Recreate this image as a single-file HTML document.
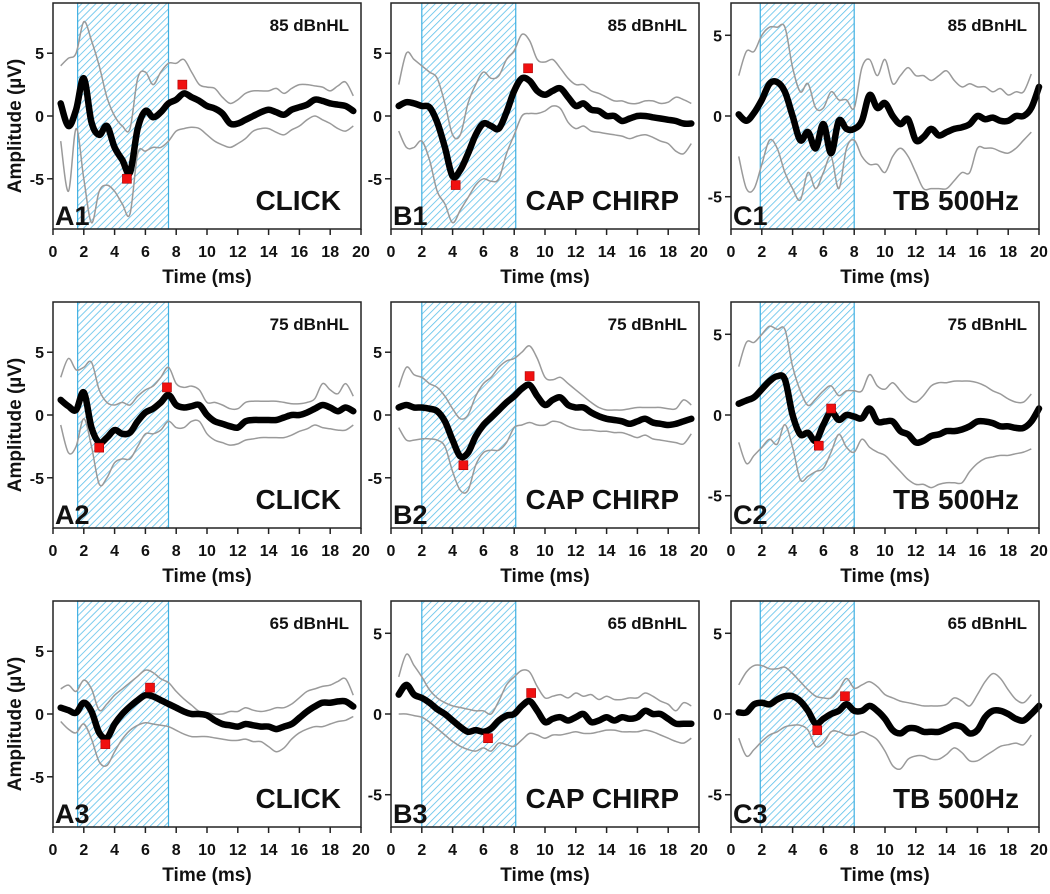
<!DOCTYPE html>
<html><head><meta charset="utf-8"><style>
html,body{margin:0;padding:0;background:#fff}
svg text{font-family:"Liberation Sans",Arial,sans-serif;font-weight:bold;fill:#111}
</style></head><body>
<svg id="fig" width="1050" height="889" viewBox="0 0 1050 889" xmlns="http://www.w3.org/2000/svg">
<defs>
<pattern id="hatch" patternUnits="userSpaceOnUse" width="5" height="5" patternTransform="rotate(45)">
<rect width="5" height="5" fill="#fff"/>
<line x1="0" y1="0" x2="0" y2="5" stroke="#5cc0ea" stroke-width="1.6"/>
</pattern>
</defs>
</svg>
<script>
const TIMES=[0.5,1,1.5,2,2.5,3,3.5,4,4.5,5,5.5,6,6.5,7,7.5,8,8.5,9,9.5,10,10.5,11,11.5,12,12.5,13,13.5,14,14.5,15,15.5,16,16.5,17,17.5,18,18.5,19,19.5,20];
const xTicks=[0,2,4,6,8,10,12,14,16,18,20];
const yTicks=[-5,0,5];

const A1_mean=[1,-0.8,0.5,3,-0.5,-1.5,-0.8,-2.5,-3.5,-4.5,-1,0.4,-0.1,0.3,1,1.3,1.8,1.5,1.2,0.8,0.6,0.2,-0.6,-0.6,-0.3,0,0.3,0.5,0.3,0.1,0.5,0.7,0.9,1.3,1.2,1.0,0.9,0.8,0.4];
const A1_up=[4,4.6,5,7.5,6,4,1.5,0,-0.8,-1,3,3.5,2.5,3.5,4.2,4.2,4.5,3.5,2.5,2.3,2.2,1.5,1,1.3,1.8,2,2,2,2.2,1.8,2.2,2.5,2.5,2.4,2.3,2,2.4,2.7,1.6];
const A1_lo=[-2,-6,-1,-5,-8.5,-6,-5.5,-6,-7,-7.8,-3,-2.8,-2.5,-2.5,-2,-1.2,-1,-0.9,-1,-1.5,-2,-2.3,-2.5,-2.2,-1.8,-1.2,-1,-1,-1.3,-1.5,-1.1,-0.8,-0.3,0,-0.3,-0.6,-1,-1.2,-0.8];
const A1_markers=[[4.8,-5],[8.4,2.5]];

const B1_mean=[0.8,1.1,1,0.8,0.7,-0.5,-2.5,-4.8,-4.3,-3,-1.5,-0.6,-0.8,-1,0.3,2,3,2.8,2,1.7,2,2.2,1.5,0.8,1,0.5,0.4,0,0,-0.4,-0.2,0,0,-0.1,-0.2,-0.3,-0.4,-0.6,-0.6];
const B1_up=[2.5,5,4.5,4,3.5,3,1,-1.5,-1.5,1,2.5,3.5,3,3.2,4.5,5.2,6.5,6,4.5,4.3,4.5,3.8,3,2.5,2.5,2,1.8,1.5,1.2,1.2,1,1,1.2,1.2,1,1.1,1.5,1.3,1];
const B1_lo=[-1.2,-2.5,-2.5,-2,-3.5,-6,-7,-8.5,-7.5,-6.5,-5.5,-5,-5.2,-5,-3,-1.5,0,0.2,0.2,0.4,0.8,0.6,-0.5,-1,-0.8,-1.2,-1.3,-1.4,-1.5,-1.6,-1.8,-1.6,-1.5,-1.7,-2,-2.2,-2.8,-3,-2.2];
const B1_markers=[[4.2,-5.5],[8.9,3.8]];

const C1_mean=[0.1,-0.3,0.2,1,2,2.1,1.5,0,-1.5,-1,-2,-0.5,-2.3,-0.3,-0.8,-0.8,-0.3,1.3,0.5,0.8,0,-0.5,-0.2,-1.5,-1.3,-0.8,-1.2,-1,-0.8,-0.7,-0.5,0,-0.2,-0.1,-0.3,-0.3,0,0,0.5,1.8];
const C1_up=[2.5,4,4,5,5.5,5.5,5.5,3,1.5,2,0.5,0.5,1.5,1,1,0.5,3,3.5,2.5,3.5,2,2.5,3,2.5,2.5,2.2,2.5,2.8,2.2,1.8,2,1.8,1.8,1.5,1.7,1.3,1.5,1.5,2.6];
const C1_lo=[-2.5,-4.5,-4.5,-3,-1.5,-2,-3.5,-4.5,-5.2,-3.5,-4.5,-3.5,-2.5,-4.5,-2,-1.5,-2.5,-3,-3,-3.5,-2.5,-2,-2.5,-3.5,-4.5,-4.5,-4.5,-4.5,-4,-3.5,-3.5,-2,-2,-2,-2.2,-2.3,-2,-1.5,-1];
const C1_markers=[];

const A2_mean=[1.2,0.7,0.4,1.8,-1,-2.2,-1.8,-1.2,-1.5,-1.4,-0.5,0.2,0.5,1,1.6,0.8,0.6,0.7,0.8,0,-0.5,-0.7,-0.9,-1,-0.5,-0.4,-0.4,-0.4,-0.4,-0.2,0,0,0.2,0.5,0.8,0.6,0.3,0.6,0.3];
const A2_up=[3,4.5,3.6,3.8,4.2,2,1,0.8,1,0.8,1.5,2,2.3,3,3.8,2.5,2.2,2.3,2,1,1,0.8,0.5,0.5,1,1.1,1.1,1.1,1.1,1,0.9,0.9,1,1.3,2.5,2,1.7,2.5,1.5];
const A2_lo=[-0.8,-3,-2.5,-0.3,-2.5,-5.5,-5,-3.8,-3.5,-3.5,-2.5,-1.5,-1.5,-1.2,-0.5,-1,-1,-0.5,-0.5,-1.5,-2,-2.2,-2.4,-2.3,-2,-1.9,-1.8,-1.8,-1.8,-1.8,-1.6,-1.3,-1.1,-0.8,-1,-1.1,-1.2,-1.2,-0.8];
const A2_markers=[[3,-2.6],[7.4,2.2]];

const B2_mean=[0.6,0.8,0.6,0.6,0.5,0.3,-0.5,-2,-3.3,-3,-1.7,-0.8,-0.2,0.4,1,1.5,2.1,2.4,1.5,0.8,1.2,1.4,0.8,0.6,0.6,0.2,-0.1,-0.3,-0.4,-0.5,-0.7,-0.5,-0.3,-0.6,-0.7,-0.8,-0.7,-0.5,-0.3];
const B2_up=[2.2,3.8,3.2,3,2.5,2.2,1.5,0.5,-0.3,0,1.5,2.5,3,3.8,4.3,4.5,5,5.5,4.5,3,2.8,3,2.5,2,1.5,1,0.6,0.4,0.4,0.4,0.5,0.6,0.6,0.6,0.6,0.5,0.5,1.2,0.8];
const B2_lo=[-1,-2,-2,-1.9,-1.9,-2,-2.5,-4.5,-6,-6,-4,-3,-2.8,-2.8,-2.2,-1,-0.8,-0.6,-0.8,-0.8,-0.5,-0.6,-0.9,-1.1,-1.2,-1.2,-1.3,-1.3,-1.4,-1.4,-1.6,-1.8,-1.6,-1.9,-2,-2.1,-2.2,-2.3,-1.5];
const B2_markers=[[4.7,-4],[9,3.1]];

const C2_mean=[0.7,0.9,1.1,1.6,2.1,2.4,2.2,0,-1.2,-1.1,-1.6,-0.6,0.2,-0.3,0,-0.1,-0.2,0.4,-0.4,-0.4,-0.4,-1,-1.2,-1.7,-1.6,-1.3,-1.2,-1,-1,-0.9,-0.7,-0.4,-0.4,-0.5,-0.7,-0.7,-0.8,-0.8,-0.4,0.4];
const C2_up=[3,4.5,4.5,5,5.5,5.3,5.3,3,1.5,0.6,1,1.5,1.8,1.2,1.5,1.5,1.5,2.5,1.8,1.6,2,1.5,1,0.8,1.2,1.8,2,2,2.1,2.1,2.1,2,1.8,1.5,1.3,1,0.8,0.8,1.3];
const C2_lo=[-1.7,-3,-2.5,-2,-1.5,-1.8,-0.6,-2,-4,-3.8,-3.5,-3.3,-2.3,-1.2,-2,-2.3,-1.5,-2,-2.3,-2.5,-3,-3.5,-4,-4.3,-4.3,-4.5,-4.3,-4.2,-4.2,-4.2,-3.5,-3,-2.7,-2.6,-2.5,-2.5,-2.4,-2.3,-2.1];
const C2_markers=[[5.7,-1.9],[6.5,0.4]];

const A3_mean=[0.5,0.3,0.1,0.9,0.2,-1.5,-1.9,-0.8,0,0.6,1.1,1.5,1.4,1.1,0.8,0.5,0.2,0,0,-0.1,-0.5,-0.8,-0.9,-1,-0.8,-0.9,-1,-1,-1.2,-1,-0.8,-0.3,0.2,0.6,0.9,0.9,1,1,0.6];
const A3_up=[2,2.3,1.8,2.7,2,0.3,0.8,1.5,2,2.5,3,3.5,3.3,2.8,2.5,1.8,1.2,0.7,0.2,0.1,0,0,0.2,0.2,0.5,0.3,0.2,0.3,0.5,0.5,0.8,1.3,1.8,2,2.2,2.3,2.6,2.8,1.5];
const A3_lo=[-0.6,-1.2,-1.5,-0.8,-2,-3.8,-4.1,-3,-2,-1.3,-0.9,-0.7,-0.8,-0.9,-1,-1.3,-1.6,-1.8,-1.8,-1.8,-1.9,-2,-2.1,-2.1,-2,-2.2,-2.2,-2.6,-3,-2.7,-2,-1.5,-1.2,-1,-1,-0.8,-0.6,-0.5,-0.2];
const A3_markers=[[3.4,-2.4],[6.3,2.1]];

const B3_mean=[1.2,1.8,1.2,1,0.7,0.3,0,-0.4,-0.8,-1.1,-1,-1.1,-0.9,-0.4,-0.1,0,0.5,0.8,0.2,-0.5,-0.3,-0.2,-0.4,-0.2,0,-0.5,-0.4,-0.2,-0.4,-0.2,-0.3,-0.2,0.2,0,0,-0.3,-0.6,-0.6,-0.6];
const B3_up=[2.3,3.7,3,2.3,1.5,1,0.7,0.5,0.4,0.3,0.2,0.2,0,0.8,1.8,2.3,2.7,2.6,1.7,1,1.1,1.2,1,1.3,1.1,1.2,0.9,1.1,0.9,0.9,1,1,1.3,1.1,0.8,0.6,0.2,0.7,0.5];
const B3_lo=[0,0,-0.1,-0.2,-0.5,-0.9,-1.3,-1.7,-2,-2.2,-2.3,-2.1,-2.3,-1.8,-1.9,-2,-1.6,-1.2,-1.3,-1.5,-1.3,-1.3,-1.2,-1.1,-1.2,-1.2,-1.1,-1,-1,-1.1,-1.1,-1.1,-1,-1.1,-1.3,-1.5,-1.7,-1.8,-1.5];
const B3_markers=[[6.3,-1.5],[9.1,1.3]];

const C3_mean=[0.1,0.1,0.6,0.7,0.6,0.9,1.1,1.1,0.8,0.2,-0.6,-0.3,0,0.2,0.6,0.2,0.2,0.5,0.2,-0.3,-1,-1.2,-0.9,-0.9,-1.1,-1.1,-1.1,-0.9,-0.7,-0.8,-1.2,-1,-0.2,0.2,0.2,0,-0.3,-0.4,0,0.5];
const C3_up=[1.8,2.6,3,3,2.8,2.8,2.9,2.5,2,1.5,1.1,1,1,1.5,2.2,1.6,1.8,2,1.7,1.2,1,0.8,0.7,0.6,0.5,0.5,0.5,0.6,1,0.8,0.5,1.2,2,2.5,2.2,1.5,0.9,0.7,1.2];
const C3_lo=[-1.5,-2.6,-2.2,-1.7,-1.3,-1.1,-0.8,-0.7,-0.7,-1,-2,-1.8,-1.1,-1.1,-1.3,-1.3,-1.1,-1.3,-1.6,-2.3,-3.2,-3.4,-2.8,-2.6,-2.6,-2.8,-2.8,-2.5,-2.1,-2.4,-2.9,-2.9,-2.6,-2.3,-2,-1.9,-1.8,-1.9,-1.3];
const C3_markers=[[5.6,-1.0],[7.4,1.1]];

const panels=[
 {id:'A1',x:53,y:3,yr:9,shade:[1.6,7.5],level:'85 dBnHL',stim:'CLICK',mean:A1_mean,up:A1_up,lo:A1_lo,mk:A1_markers,ylab:true},
 {id:'B1',x:391,y:3,yr:9,shade:[2,8.1],level:'85 dBnHL',stim:'CAP CHIRP',mean:B1_mean,up:B1_up,lo:B1_lo,mk:B1_markers},
 {id:'C1',x:731,y:3,yr:7,shade:[1.9,8],level:'85 dBnHL',stim:'TB 500Hz',mean:C1_mean,up:C1_up,lo:C1_lo,mk:C1_markers},
 {id:'A2',x:53,y:302,yr:9,shade:[1.6,7.5],level:'75 dBnHL',stim:'CLICK',mean:A2_mean,up:A2_up,lo:A2_lo,mk:A2_markers,ylab:true},
 {id:'B2',x:391,y:302,yr:9,shade:[2,8.1],level:'75 dBnHL',stim:'CAP CHIRP',mean:B2_mean,up:B2_up,lo:B2_lo,mk:B2_markers},
 {id:'C2',x:731,y:302,yr:7,shade:[1.9,8],level:'75 dBnHL',stim:'TB 500Hz',mean:C2_mean,up:C2_up,lo:C2_lo,mk:C2_markers},
 {id:'A3',x:53,y:601,yr:9,shade:[1.6,7.5],level:'65 dBnHL',stim:'CLICK',mean:A3_mean,up:A3_up,lo:A3_lo,mk:A3_markers,ylab:true},
 {id:'B3',x:391,y:601,yr:7,shade:[2,8.1],level:'65 dBnHL',stim:'CAP CHIRP',mean:B3_mean,up:B3_up,lo:B3_lo,mk:B3_markers},
 {id:'C3',x:731,y:601,yr:7,shade:[1.9,8],level:'65 dBnHL',stim:'TB 500Hz',mean:C3_mean,up:C3_up,lo:C3_lo,mk:C3_markers}
];
const W=308,H=226;
const NS='http://www.w3.org/2000/svg';
const svg=document.getElementById('fig');
function mk(tag,attrs,parent){const e=document.createElementNS(NS,tag);for(const k in attrs)e.setAttribute(k,attrs[k]);(parent||svg).appendChild(e);return e;}
function smooth(pts){
 let d='M'+pts[0][0].toFixed(1)+','+pts[0][1].toFixed(1);
 for(let i=0;i<pts.length-1;i++){
  const p0=pts[i-1]||pts[i],p1=pts[i],p2=pts[i+1],p3=pts[i+2]||p2;
  const c1=[p1[0]+(p2[0]-p0[0])/6,p1[1]+(p2[1]-p0[1])/6];
  const c2=[p2[0]-(p3[0]-p1[0])/6,p2[1]-(p3[1]-p1[1])/6];
  d+='C'+c1[0].toFixed(1)+','+c1[1].toFixed(1)+' '+c2[0].toFixed(1)+','+c2[1].toFixed(1)+' '+p2[0].toFixed(1)+','+p2[1].toFixed(1);
 }
 return d;
}
panels.forEach(p=>{
 const g=mk('g',{});
 
 
 const sx=t=>p.x+t/20*W;
 const sy=v=>p.y+H/2-v/p.yr*(H/2);
 const sh=mk('rect',{x:sx(p.shade[0]),y:p.y,width:sx(p.shade[1])-sx(p.shade[0]),height:H,fill:'url(#hatch)',stroke:'#3fb0e2','stroke-width':1.2},g);
 
 
 [[p.up,'upper-bound'],[p.lo,'lower-bound']].forEach(([arr,nm])=>{
  const pts=arr.map((v,i)=>[sx(TIMES[i]),sy(v)]);
  const l=mk('path',{d:smooth(pts),fill:'none',stroke:'#9a9a9a','stroke-width':1.5},g);
  
  
 });
 const mpts=p.mean.map((v,i)=>[sx(TIMES[i]),sy(v)]);
 const ml=mk('path',{d:smooth(mpts),fill:'none',stroke:'#000','stroke-width':6.5,'stroke-linecap':'round','stroke-linejoin':'round'},g);
 
 
 p.mk.forEach(m=>{
  const r=mk('rect',{x:sx(m[0])-4.5,y:sy(m[1])-4.5,width:9,height:9,fill:'#f01010',stroke:'#a00','stroke-width':0.6},g);
  
  
 });
 const fr=mk('rect',{x:p.x,y:p.y,width:W,height:H,fill:'none',stroke:'#222','stroke-width':1.5},g);
 
 
 const by=p.y+H;
 xTicks.forEach(t=>{
  mk('line',{x1:sx(t),y1:by,x2:sx(t),y2:by+6,stroke:'#222','stroke-width':1.5},g);
  const tx=mk('text',{x:sx(t),y:by+28,'text-anchor':'middle','font-size':16},g);
  tx.textContent=t;
  
  
 });
 yTicks.forEach(v=>{
  mk('line',{x1:p.x-6,y1:sy(v),x2:p.x,y2:sy(v),stroke:'#222','stroke-width':1.5},g);
  const tx=mk('text',{x:p.x-9,y:sy(v)+6,'text-anchor':'end','font-size':16},g);
  tx.textContent=v;
  
  
 });
 const xt=mk('text',{x:p.x+W/2,y:by+54,'text-anchor':'middle','font-size':19},g);
 xt.textContent='Time (ms)';
 
 
 if(p.ylab){
  const yt=mk('text',{x:0,y:0,'text-anchor':'middle','font-size':19,transform:'translate(21,'+(p.y+H/2+10)+') rotate(-90)'},g);
  yt.textContent='Amplitude (\u00b5V)';
  
  
 }
 const lv=mk('text',{x:p.x+W-12,y:p.y+28,'text-anchor':'end','font-size':17},g);
 lv.textContent=p.level;
 
 
 const st=mk('text',{x:p.x+W-20,y:by-19,'text-anchor':'end','font-size':28},g);
 st.textContent=p.stim;
 
 
 const pl=mk('text',{x:p.x+2,y:by-4,'font-size':27},g);
 pl.textContent=p.id;
 
 
});
</script>
</body></html>
